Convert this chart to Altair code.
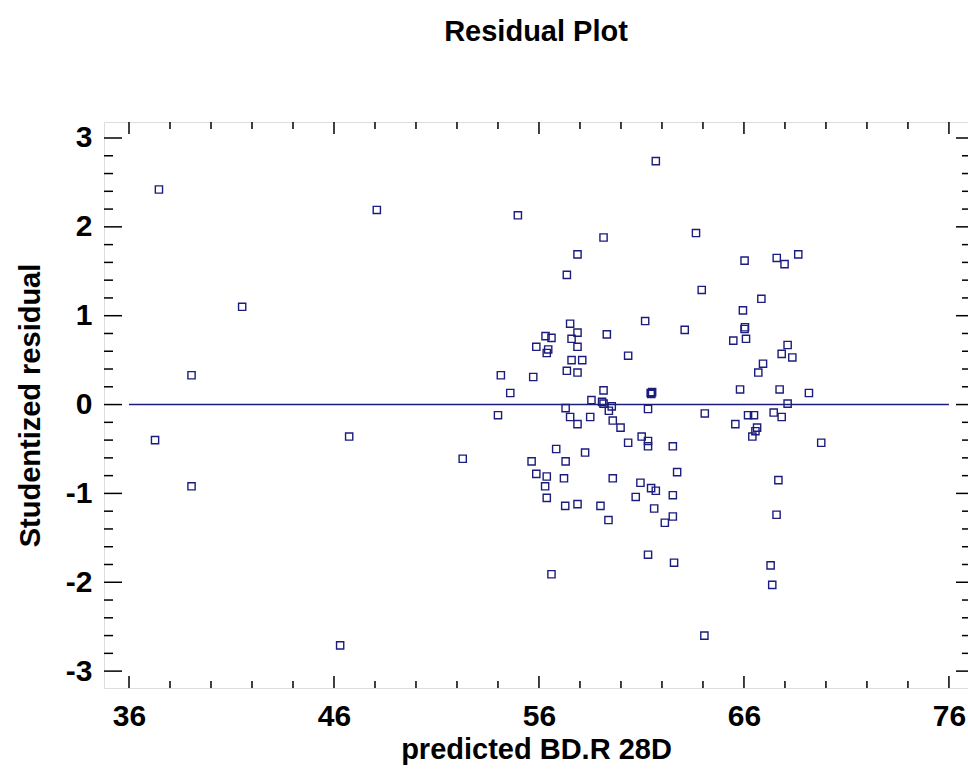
import altair as alt
import pandas as pd

# predicted values (x) and studentized residuals (y)
pred = [
    37.46, 37.27, 39.05, 39.05, 41.52, 48.09, 46.74, 46.30, 52.28,
    61.70, 54.97, 59.15, 63.66, 57.88, 57.36, 63.94, 57.52, 61.18, 63.11,
    56.32, 56.61, 57.88, 59.31, 57.59, 55.87, 57.88, 56.45, 56.38, 60.35,
    57.59, 58.11, 57.36, 57.88, 54.14, 55.72, 54.60, 59.15,
    61.45, 61.52, 61.48, 58.56, 59.08, 59.15,
    59.55, 57.30, 59.41, 61.32, 54.00, 57.52, 58.50, 57.88, 59.60, 59.98,
    61.01, 61.32, 61.32, 60.35, 62.53, 56.84, 58.25, 55.64, 57.30, 62.74,
    55.87, 56.38, 57.22, 59.60, 60.95, 56.30, 61.47, 61.70, 60.72, 62.53,
    56.38, 61.62, 57.28, 57.88, 59.00, 59.39, 62.53, 62.14, 61.32, 62.59,
    56.61, 64.07,
    66.03, 67.60, 67.98, 68.65, 66.85, 65.95, 66.03, 66.05, 65.48, 66.10,
    68.13, 67.84, 68.36, 66.93, 66.70, 65.81, 67.74, 69.17, 68.13,
    64.09, 66.20, 66.49, 67.45, 67.84, 65.58, 66.64, 66.56, 66.41, 69.77,
    67.68, 67.59, 67.30, 67.38,
]
resid = [
    2.42, -0.40, 0.33, -0.92, 1.10, 2.19, -0.36, -2.71, -0.61,
    2.74, 2.13, 1.88, 1.93, 1.69, 1.46, 1.29, 0.91, 0.94, 0.84,
    0.77, 0.75, 0.81, 0.79, 0.74, 0.65, 0.65, 0.62, 0.58, 0.55,
    0.50, 0.50, 0.38, 0.36, 0.33, 0.31, 0.13, 0.16,
    0.13, 0.14, 0.12, 0.05, 0.03, 0.01,
    -0.02, -0.04, -0.07, -0.05, -0.12, -0.14, -0.14, -0.22, -0.18, -0.26,
    -0.36, -0.41, -0.47, -0.43, -0.47, -0.50, -0.54, -0.64, -0.64, -0.76,
    -0.78, -0.81, -0.83, -0.83, -0.88, -0.92, -0.94, -0.97, -1.04, -1.02,
    -1.05, -1.17, -1.14, -1.12, -1.14, -1.30, -1.26, -1.33, -1.69, -1.78,
    -1.91, -2.60,
    1.62, 1.65, 1.58, 1.69, 1.19, 1.06, 0.85, 0.87, 0.72, 0.74,
    0.67, 0.57, 0.53, 0.46, 0.36, 0.17, 0.17, 0.13, 0.01,
    -0.10, -0.12, -0.12, -0.09, -0.14, -0.22, -0.26, -0.30, -0.36, -0.43,
    -0.85, -1.24, -1.81, -2.03,
]

x_major = [36, 46, 56, 66, 76]
x_minor = [38, 40, 42, 44, 48, 50, 52, 54, 58, 60, 62, 64, 68, 70, 72, 74]
y_major = [-3, -2, -1, 0, 1, 2, 3]
y_minor = [round(v / 10, 1) for v in range(-30, 31, 2) if v % 10 != 0]
zero_line_x = [36, 76]

W, H = 864, 566
X_DOM = [34.78, 76.93]
Y_DOM = [-3.19, 3.18]
NAVY = "#1c1c7c"
FONT = "Liberation Sans, Arial, sans-serif"
LABEL_EXPR = "datum.value < 0 ? '-' + abs(datum.value) : '' + datum.value"

pts = pd.DataFrame({"x": pred, "y": resid})

xs = alt.Scale(domain=X_DOM, nice=False, zero=False)
ys = alt.Scale(domain=Y_DOM, nice=False, zero=False)

base_x_axis = alt.Axis(
    values=x_major, labelExpr=LABEL_EXPR, grid=False, ticks=False, tickSize=0, domain=False,
    labelFont=FONT, labelFontSize=30, labelFontWeight="bold", labelColor="black",
    labelPadding=13, labelFlush=False,
    title="predicted BD.R 28D", titleFont=FONT, titleFontSize=29, titleFontWeight="bold",
    titleColor="black", titleX=W / 2, titleY=61, titleAlign="center", titleBaseline="middle",
)
base_y_axis = alt.Axis(
    values=y_major, labelExpr=LABEL_EXPR, grid=False, ticks=False, tickSize=0, domain=False,
    labelFont=FONT, labelFontSize=30, labelFontWeight="bold", labelColor="black",
    labelPadding=12, labelFlush=False,
    title="Studentized residual", titleFont=FONT, titleFontSize=29, titleFontWeight="bold",
    titleColor="black", titleX=-74, titleY=H / 2, titleAngle=270, titleAlign="center",
    titleBaseline="middle",
)

points = alt.Chart(pts).mark_point(
    shape="square", filled=False, size=52, strokeWidth=1.4, color=NAVY, opacity=1
).encode(
    x=alt.X("x:Q", scale=xs, axis=base_x_axis),
    y=alt.Y("y:Q", scale=ys, axis=base_y_axis),
)

zero = alt.Chart(pd.DataFrame({"x": [zero_line_x[0]], "x2": [zero_line_x[1]], "y": [0]})).mark_rule(
    color=NAVY, strokeWidth=1.6
).encode(x=alt.X("x:Q", scale=xs), x2="x2:Q", y=alt.Y("y:Q", scale=ys))

def xticks(vals, length, top):
    df = pd.DataFrame({"v": vals})
    if top:
        yv, y2v = alt.value(0), alt.value(length)
    else:
        yv, y2v = alt.value(H), alt.value(H - length)
    return alt.Chart(df).mark_rule(color="black", strokeWidth=1.5).encode(
        x=alt.X("v:Q", scale=xs), y=yv, y2=y2v)

def yticks(vals, length, right):
    df = pd.DataFrame({"v": vals})
    if right:
        xv, x2v = alt.value(W), alt.value(W - length)
    else:
        xv, x2v = alt.value(0), alt.value(length)
    return alt.Chart(df).mark_rule(color="black", strokeWidth=1.5).encode(
        y=alt.Y("v:Q", scale=ys), x=xv, x2=x2v)

layers = [
    xticks(x_major, 12, False), xticks(x_minor, 7, False),
    xticks(x_major, 12, True), xticks(x_minor, 7, True),
    yticks(y_major, 18, False), yticks(y_minor, 9, False),
    yticks(y_major, 12, True), yticks(y_minor, 6, True),
    zero, points,
]

chart = alt.layer(*layers).properties(
    width=W, height=H,
    title=alt.TitleParams(
        "Residual Plot", font=FONT, fontSize=29, fontWeight="bold",
        color="black", anchor="middle", frame="group", offset=74,
    ),
    autosize=alt.AutoSizeParams(type="none"),
    padding={"left": 104, "top": 122, "right": 0, "bottom": 86},
).configure_view(
    stroke="black", strokeWidth=1.5
).configure(background="white")

chart.save("out.html", embed_options={"renderer": "svg", "actions": False})
